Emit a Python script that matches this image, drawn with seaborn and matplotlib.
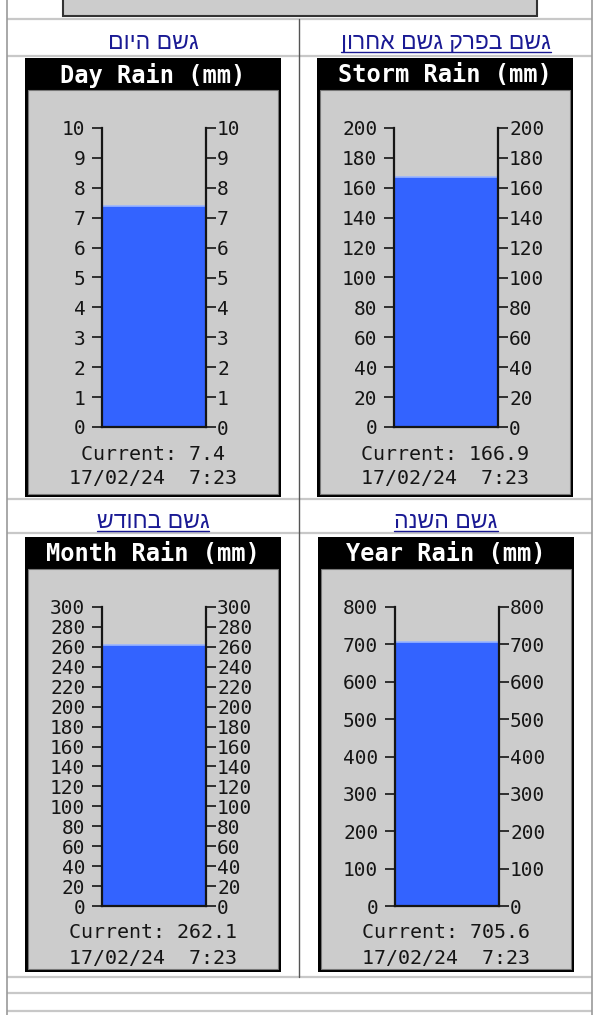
import matplotlib
matplotlib.use("Agg")
import matplotlib.pyplot as plt
import seaborn as sns
import pandas as pd
from matplotlib.patches import Rectangle

W, H = 613, 1015

# gauge data
titles = ["Day Rain (mm)", "Storm Rain (mm)", "Month Rain (mm)", "Year Rain (mm)"]
links = ["גשם היום", "גשם בפרק גשם אחרון", "גשם בחודש", "גשם השנה"]
underlined = [False, True, True, True]
current = [7.4, 166.9, 262.1, 705.6]
scale_max = [10, 200, 300, 800]
day_ticks = [0, 1, 2, 3, 4, 5, 6, 7, 8, 9, 10]
storm_ticks = [0, 20, 40, 60, 80, 100, 120, 140, 160, 180, 200]
month_ticks = [0, 20, 40, 60, 80, 100, 120, 140, 160, 180, 200, 220, 240, 260, 280, 300]
year_ticks = [0, 100, 200, 300, 400, 500, 600, 700, 800]
stamp = "17/02/24  7:23"

GRAY = "#cccccc"
BLUE = "#3363ff"
LINK = "#1a1a94"
INK = "#151515"
HEB = ["Liberation Sans", "DejaVu Sans"]

sns.set_style("white")
plt.rcParams["font.family"] = ["DejaVu Sans Mono"]

fig = plt.figure(figsize=(W / 100, H / 100), dpi=100)
fig.patch.set_facecolor("white")
bg = fig.add_axes([0, 0, 1, 1])
bg.set_xlim(0, W)
bg.set_ylim(H, 0)
bg.axis("off")


def px_rect(x0, y0, x1, y1):
    return [x0 / W, 1 - y1 / H, (x1 - x0) / W, (y1 - y0) / H]


def style_axis(a, ticks, side, pad):
    a.set_yticks(ticks)
    a.tick_params(axis="y", left=(side == "left"), right=(side == "right"),
                  labelleft=(side == "left"), labelright=(side == "right"),
                  direction="out", length=7, width=1.2, pad=pad,
                  labelsize=14, colors=INK)


# page table lines
for y in [19, 56, 499, 533, 977, 993, 1011]:
    bg.plot([7, 592], [y, y], color="#c8c8c8", lw=1.6, solid_capstyle="butt")
bg.plot([7, 7], [0, H], color="#9a9a9a", lw=1.2)
bg.plot([592, 592], [0, H], color="#9a9a9a", lw=1.2)
bg.plot([299, 299], [19, 977], color="#555555", lw=1.0)

# cut-off box at the top of the page
bg.add_patch(Rectangle((63, -5), 474, 21, fc=GRAY, ec="#333333", lw=1.5))

panel_left = [25, 317, 25, 318]
panel_top = [58, 58, 537, 537]
panel_bottom = [497, 497, 972, 972]
cell_center = [153, 446, 153, 446]
all_ticks = [day_ticks, storm_ticks, month_ticks, year_ticks]

heb_texts = []
for i in range(4):
    x0, y0, y1 = panel_left[i], panel_top[i], panel_bottom[i]
    bg.add_patch(Rectangle((x0, y0), 256, y1 - y0, fc="black", ec="none"))
    bg.add_patch(Rectangle((x0 + 3, y0 + 32), 250, (y1 - 3) - (y0 + 32),
                           fc=GRAY, ec="#777777", lw=0.8))
    bg.text(x0 + 128, y0 + 17, titles[i], color="white", fontsize=17,
            fontweight="bold", ha="center", va="center")
    bg.text(x0 + 128, y0 + 396, f"Current: {current[i]}", fontsize=14.4,
            ha="center", va="center", color=INK)
    bg.text(x0 + 128, y0 + 421, stamp, fontsize=14.4, ha="center",
            va="center", color=INK)

    # Hebrew link header (drawn in visual order)
    t = bg.text(cell_center[i], y0 - 9, links[i][::-1], family=HEB,
                fontsize=16.5, color=LINK, ha="center", va="baseline")
    heb_texts.append((t, y0 - 9, underlined[i]))

    ax = fig.add_axes(px_rect(x0 + 77, y0 + 70, x0 + 181, y0 + 369))
    df = pd.DataFrame({"gauge": [titles[i]], "mm": [current[i]]})
    sns.barplot(data=df, x="gauge", y="mm", color=BLUE, saturation=1,
                width=1.0, edgecolor="none", ax=ax)
    ax.hlines(current[i], -0.5, 0.5, color="#9ab5ff", lw=1.2)
    ax.set_xlim(-0.5, 0.5)
    ax.set_ylim(0, scale_max[i])
    ax.set_xticks([])
    ax.set_xlabel("")
    ax.set_ylabel("")
    ax.patch.set_visible(False)
    ax.spines["top"].set_visible(False)
    for s in ["left", "right", "bottom"]:
        ax.spines[s].set_visible(True)
        ax.spines[s].set_color(INK)
        ax.spines[s].set_linewidth(1.6)
    style_axis(ax, all_ticks[i], "left", 5)

    ax2 = ax.twinx()
    ax2.set_ylim(0, scale_max[i])
    for s in ["left", "top", "bottom", "right"]:
        ax2.spines[s].set_visible(False)
    style_axis(ax2, all_ticks[i], "right", 1)

fig.canvas.draw()
renderer = fig.canvas.get_renderer()
for t, yb, ul in heb_texts:
    if not ul:
        continue
    bb = t.get_window_extent(renderer)
    bg.plot([bb.x0, bb.x1], [yb + 3, yb + 3], color=LINK, lw=1.0)

fig.savefig("out.png", dpi=100, facecolor="white")
